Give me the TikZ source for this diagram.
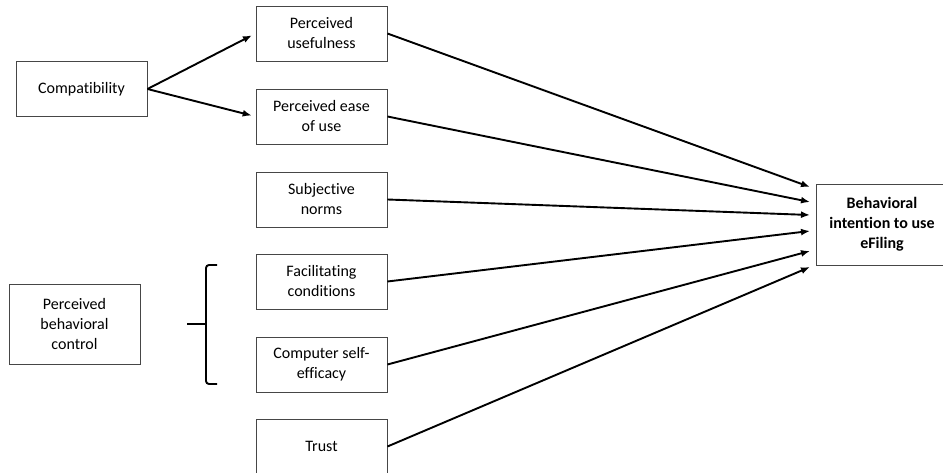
\documentclass[tikz,border=0pt]{standalone}
\usepackage{fontspec}
\setmainfont[Ligatures=NoCommon]{Carlito}
\usepackage{tikz}
\usetikzlibrary{arrows.meta,positioning}
\definecolor{boxline}{RGB}{70,70,70}

\begin{document}
\begin{tikzpicture}[x=1pt, y=-1pt,
  box/.style={draw=boxline, line width=0.9pt, minimum width=131pt, minimum height=55pt, align=center, font=\fontsize{16}{20}\selectfont, inner sep=2pt},
  link/.style={line width=1.9pt, -{Latex[length=9pt,width=7pt]}}
]
\useasboundingbox (0,0) rectangle (943,473);
% Left column
\node[box] (compat) at (81.5, 89) {Compatibility};
\node[box, minimum height=80pt] (pbc) at (74.5, 324) {Perceived\\behavioral\\control};
% Middle column
\node[box] (pu)    at (321.5, 33.5)  {Perceived\\usefulness};
\node[box] (peou)  at (321.5, 116.5) {Perceived ease\\of use};
\node[box] (sn)    at (321.5, 199.5) {Subjective\\norms};
\node[box] (fc)    at (321.5, 281.5) {Facilitating\\conditions};
\node[box] (cse)   at (321.5, 364.5) {Computer self-\\efficacy};
\node[box] (trust) at (321.5, 446.5) {Trust};
% Outcome
\node[box, minimum height=81pt, font=\fontsize{16}{20}\selectfont\bfseries] (bi) at (882, 224.5) {Behavioral\\intention to use\\eFiling};
% Compatibility paths
\draw[link, shorten >=4pt] (compat.east) -- (pu.west);
\draw[link, shorten >=4pt] (compat.east) -- (peou.west);
% Paths into intention
\foreach \n/\y in {pu/187, peou/202, sn/215, fc/231, cse/251, trust/267} {
  \coordinate (in-\n) at (810, \y);
  \draw[link] (\n.east) -- (in-\n);
}
% Bracket
\coordinate (br-top) at (217, 265);
\coordinate (br-bot) at (217, 384);
\coordinate (br-mid) at (206, 324);
\coordinate (br-tip) at (187, 324);
\draw[line width=1.9pt, rounded corners=3pt] (br-top) -- (206, 265) -- (206, 384) -- (br-bot);
\draw[line width=1.9pt] (br-tip) -- (br-mid);
\end{tikzpicture}
\end{document}
